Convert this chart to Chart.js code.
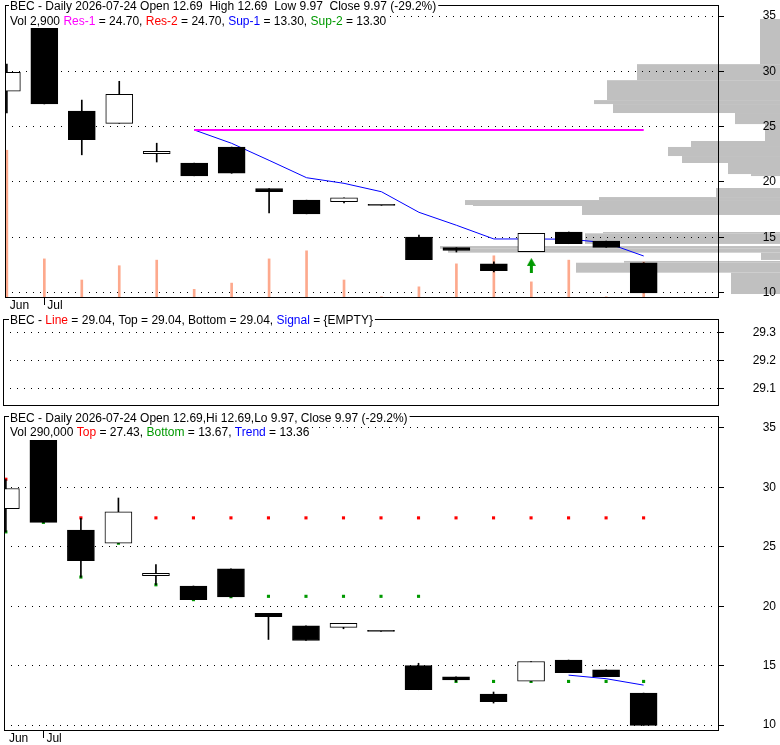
<!DOCTYPE html>
<html>
<head>
<meta charset="utf-8">
<script src="https://cdn.jsdelivr.net/npm/chart.js@4.4.0/dist/chart.umd.min.js"></script>
<style>
body { margin: 0; background: #fff; }
#wrap { position: relative; width: 780px; height: 745px; overflow: hidden; }
canvas { position: absolute; left: 0; }
</style>
</head>
<body>
<div id="wrap">
  <canvas id="priceChart" width="780" height="318" style="top:0"></canvas>
  <canvas id="lineChart" width="780" height="96" style="top:314px"></canvas>
  <canvas id="trendChart" width="780" height="335" style="top:410px"></canvas>
</div>
<script>
// daily bars
const dates = ['2026-06-30', '2026-07-01', '2026-07-02', '2026-07-06', '2026-07-07', '2026-07-08',
  '2026-07-09', '2026-07-10', '2026-07-13', '2026-07-14', '2026-07-15', '2026-07-16',
  '2026-07-17', '2026-07-20', '2026-07-21', '2026-07-22', '2026-07-23', '2026-07-24'];
const open  = [28.2, 33.95, 26.4, 25.3, 22.56, 21.7, 23.15, 19.4, 18.35, 18.22, 17.88, 15.0, 14.05, 12.6, 13.69, 15.47, 14.65, 12.69];
const high  = [30.65, 33.95, 27.4, 29.1, 23.5, 21.7, 23.15, 19.4, 18.35, 18.55, 17.88, 15.2, 14.05, 12.78, 15.35, 15.47, 14.65, 12.69];
const low   = [26.25, 27.05, 22.45, 25.3, 21.8, 20.55, 20.78, 17.2, 17.11, 18.1, 17.88, 12.97, 13.66, 11.85, 13.69, 14.41, 14.08, 9.97];
const close = [29.9, 27.05, 23.83, 27.93, 22.77, 20.55, 20.78, 19.12, 17.11, 18.55, 17.88, 12.97, 13.8, 11.97, 15.35, 14.41, 14.08, 9.97];
const volume = [11900, 3150, 1450, 2600, 3050, 700, 1200, 3150, 3800, 1450, 100, 900, 2750, 3400, 1300, 3050, 100, 2900];

// indicator series (null = not drawn)
const res1 = [null, null, null, null, null, 24.7, 24.7, 24.7, 24.7, 24.7, 24.7, 24.7, 24.7, 24.7, 24.7, 24.7, 24.7, 24.7];
const sup1 = [null, null, null, null, null, 24.7, 23.49, 21.95, 20.38, 19.87, 19.11, 17.25, 16.08, 14.84, 14.84, 14.82, 14.5, 13.3];
const buySignal = [null, null, null, null, null, null, null, null, null, null, null, null, null, null, 12.45, null, null, null];
const topLevel = [30.68, null, 27.43, null, 27.43, 27.43, 27.43, 27.43, 27.43, 27.43, 27.43, 27.43, 27.43, 27.43, 27.43, 27.43, 27.43, 27.43];
const bottomLevel = [26.25, 27.05, 22.45, 25.3, 21.8, 20.55, 20.8, 20.83, 20.83, 20.83, 20.83, 20.83, 13.67, 13.67, 13.67, 13.67, 13.67, 13.67];
const trend = [null, null, null, null, null, null, null, null, null, null, null, null, null, null, null, 14.2, 13.9, 13.36];

// volume at price
const vpLow  = [30.65, 29.2, 27.4, 27.04, 26.23, 25.23, 23.7, 23.16, 22.34, 21.71, 20.71, 20.53, 18.63, 18.36, 17.91, 17.82, 17.01, 15.35, 14.39, 13.96, 13.6, 12.94, 12.69, 11.79, 9.86];
const vpHigh = [34.73, 30.65, 29.2, 27.4, 27.04, 26.23, 25.23, 23.7, 23.16, 22.34, 21.71, 20.71, 19.45, 18.63, 18.36, 17.91, 17.82, 15.47, 15.35, 14.2, 13.96, 13.6, 12.85, 12.69, 11.79];
const vpVol  = [20, 143, 173, 186, 167, 45, 15, 89, 112, 98, 52, 29, 64, 181, 315, 307, 198, 177, 195, 340, 332, 19, 156, 204, 49];

// ticks
const priceTicks = [10, 15, 20, 25, 30, 35];
const lineTicks = [29.1, 29.2, 29.3];
const monthNames = ['Jan', 'Feb', 'Mar', 'Apr', 'May', 'Jun', 'Jul', 'Aug', 'Sep', 'Oct', 'Nov', 'Dec'];

const monthTicks = [];
const monthLabels = [];
dates.forEach((d, i) => {
  const m = +d.slice(5, 7);
  if (i === 0 || m !== +dates[i - 1].slice(5, 7)) {
    monthTicks.push(i);
    monthLabels.push(monthNames[m - 1]);
  }
});

Chart.defaults.font.family = '"Liberation Sans", Arial, sans-serif';
Chart.defaults.font.size = 12;
Chart.defaults.color = '#000';

const toPoints = arr => arr.map((v, i) => ({ x: i, y: v })).filter(p => p.y !== null);

function candleSets() {
  return [
    {
      type: 'bar', data: dates.map((d, i) => ({ x: i, y: [open[i], close[i]] })),
      backgroundColor: dates.map((d, i) => close[i] > open[i] ? '#fff' : '#000'),
      borderColor: '#000', borderWidth: 1, borderSkipped: false,
      barThickness: 27, minBarLength: 1, grouped: false, order: 0
    },
    {
      type: 'bar', data: dates.map((d, i) => ({ x: i, y: [low[i], high[i]] })),
      backgroundColor: '#000', barThickness: 1, grouped: false, order: 1
    }
  ];
}

function xAxis(show, h) {
  return {
    type: 'linear', min: -0.05, max: 19.01, display: show, offset: false,
    grid: {
      offset: false, drawOnChartArea: false, drawTicks: true, tickLength: 7,
      tickColor: c => c.index === 0 ? 'rgba(0,0,0,0)' : '#000'
    },
    border: { display: false },
    ticks: {
      autoSkip: false, maxRotation: 0, align: 'start', labelOffset: 3, padding: -7,
      callback: v => {
        const k = monthTicks.indexOf(v);
        return k >= 0 ? monthLabels[k] : '';
      }
    },
    afterBuildTicks: s => { s.ticks = monthTicks.map(v => ({ value: v })); },
    afterFit: s => { s.height = h; s.paddingLeft = 0; s.paddingRight = 0; }
  };
}

function yAxis(min, max, tickVals, pad) {
  return {
    type: 'linear', position: 'right', min: min, max: max,
    grid: { color: '#000', lineWidth: 1, tickLength: 5, tickColor: '#000', tickBorderDash: [] },
    border: { display: false, dash: [1, 6] },
    ticks: { crossAlign: 'far', padding: pad, callback: v => String(Math.round(v * 100) / 100) },
    afterBuildTicks: s => { s.ticks = tickVals.map(v => ({ value: v })); },
    afterFit: s => { s.width = 57; s.paddingTop = 0; s.paddingBottom = 0; }
  };
}

// frame round the plot area, then header texts on white
const panelPlugin = {
  id: 'panel',
  afterDraw(chart, args, opts) {
    const ctx = chart.ctx;
    const a = chart.chartArea;
    ctx.save();
    ctx.strokeStyle = '#000';
    ctx.lineWidth = 1;
    ctx.strokeRect(Math.round(a.left) + 0.5, Math.round(a.top) + 0.5,
      Math.round(a.right - a.left) - 1, Math.round(a.bottom - a.top) - 1);
    ctx.font = '12px "Liberation Sans", Arial, sans-serif';
    ctx.textBaseline = 'alphabetic';
    for (const line of opts.lines) {
      let x = 10;
      let w = 0;
      line.parts.forEach(p => { w += ctx.measureText(p[0]).width; });
      ctx.fillStyle = '#fff';
      ctx.fillRect(x - 1, line.y - 10, w + 3, 13);
      for (const [t, c] of line.parts) {
        ctx.fillStyle = c;
        ctx.fillText(t, x, line.y);
        x += ctx.measureText(t).width;
      }
    }
    ctx.restore();
  }
};

// grey volume-at-price bars from the right edge
const vpPlugin = {
  id: 'vp',
  beforeDraw(chart) {
    const y = chart.scales.y;
    const ctx = chart.ctx;
    ctx.save();
    ctx.fillStyle = '#c0c0c0';
    vpLow.forEach((lo, k) => {
      const top = y.getPixelForValue(vpHigh[k]);
      const bot = y.getPixelForValue(lo);
      const w = vpVol[k];
      ctx.fillRect(chart.width - w, top, w, bot - top);
    });
    ctx.restore();
  }
};

const arrowImg = document.createElement('canvas');
arrowImg.width = 9;
arrowImg.height = 15;
const ac = arrowImg.getContext('2d');
ac.fillStyle = '#009900';
ac.beginPath();
ac.moveTo(4.5, 0);
ac.lineTo(9, 8);
ac.lineTo(0, 8);
ac.closePath();
ac.fill();
ac.fillRect(3, 8, 3, 7);

const common = {
  responsive: false, animation: false, devicePixelRatio: 1, events: [],
};

// Price panel
new Chart(document.getElementById('priceChart').getContext('2d'), {
  type: 'bar',
  data: {
    datasets: [
      ...candleSets(),
      { type: 'scatter', data: toPoints(buySignal), pointStyle: arrowImg, order: 0 },
      { type: 'line', data: toPoints(res1), borderColor: '#ff00ff', borderWidth: 2, pointRadius: 0, order: 3 },
      { type: 'line', data: toPoints(sup1), borderColor: '#0000ff', borderWidth: 1, pointRadius: 0, order: 3 },
      { type: 'bar', data: volume.map((v, i) => ({ x: i, y: v })), yAxisID: 'yv',
        backgroundColor: '#fda98d', barThickness: 2, grouped: false, order: 5 }
    ]
  },
  options: {
    ...common,
    layout: { padding: { left: 3, right: 4, top: 5, bottom: 0 } },
    scales: {
      x: xAxis(true, 20),
      y: yAxis(9.5, 36, priceTicks, 39),
      yv: { type: 'linear', display: false, min: 0, max: 23600 }
    },
    plugins: {
      legend: { display: false }, tooltip: { enabled: false },
      panel: { lines: [
        { y: 10, parts: [['BEC - Daily 2026-07-24 Open 12.69  High 12.69  Low 9.97  Close 9.97 (-29.2%)', '#000']] },
        { y: 25, parts: [['Vol 2,900 ', '#000'], ['Res-1', '#ff00ff'], [' = 24.70, ', '#000'], ['Res-2', '#ff0000'],
          [' = 24.70, ', '#000'], ['Sup-1', '#0000ff'], [' = 13.30, ', '#000'], ['Sup-2', '#009900'], [' = 13.30', '#000']] }
      ] }
    }
  },
  plugins: [vpPlugin, panelPlugin]
});

// Line panel
new Chart(document.getElementById('lineChart').getContext('2d'), {
  type: 'line',
  data: { datasets: [] },
  options: {
    ...common,
    layout: { padding: { left: 3, right: 4, top: 5, bottom: 4 } },
    scales: {
      x: xAxis(false, 0),
      y: yAxis(29.038, 29.348, lineTicks, 29)
    },
    plugins: {
      legend: { display: false }, tooltip: { enabled: false },
      panel: { lines: [
        { y: 10, parts: [['BEC - ', '#000'], ['Line', '#ff0000'], [' = 29.04, Top = 29.04, Bottom = 29.04, ', '#000'],
          ['Signal', '#0000ff'], [' = {EMPTY}', '#000']] }
      ] }
    }
  },
  plugins: [panelPlugin]
});

// Top / bottom / trend panel
new Chart(document.getElementById('trendChart').getContext('2d'), {
  type: 'bar',
  data: {
    datasets: [
      ...candleSets(),
      { type: 'scatter', data: toPoints(topLevel), pointStyle: 'rect', pointRadius: 2.2,
        backgroundColor: '#ff0000', borderWidth: 0, order: 2 },
      { type: 'scatter', data: toPoints(bottomLevel), pointStyle: 'rect', pointRadius: 2.2,
        backgroundColor: '#009900', borderWidth: 0, order: 2 },
      { type: 'line', data: toPoints(trend), borderColor: '#0000ff', borderWidth: 1, pointRadius: 0, order: 3 }
    ]
  },
  options: {
    ...common,
    layout: { padding: { left: 3, right: 4, top: 6, bottom: 0 } },
    scales: {
      x: xAxis(true, 14),
      y: yAxis(9.5, 36, priceTicks, 39)
    },
    plugins: {
      legend: { display: false }, tooltip: { enabled: false },
      panel: { lines: [
        { y: 12, parts: [['BEC - Daily 2026-07-24 Open 12.69,Hi 12.69,Lo 9.97, Close 9.97 (-29.2%)', '#000']] },
        { y: 26, parts: [['Vol 290,000 ', '#000'], ['Top', '#ff0000'], [' = 27.43, ', '#000'], ['Bottom', '#009900'],
          [' = 13.67, ', '#000'], ['Trend', '#0000ff'], [' = 13.36', '#000']] }
      ] }
    }
  },
  plugins: [panelPlugin]
});
</script>
</body>
</html>
